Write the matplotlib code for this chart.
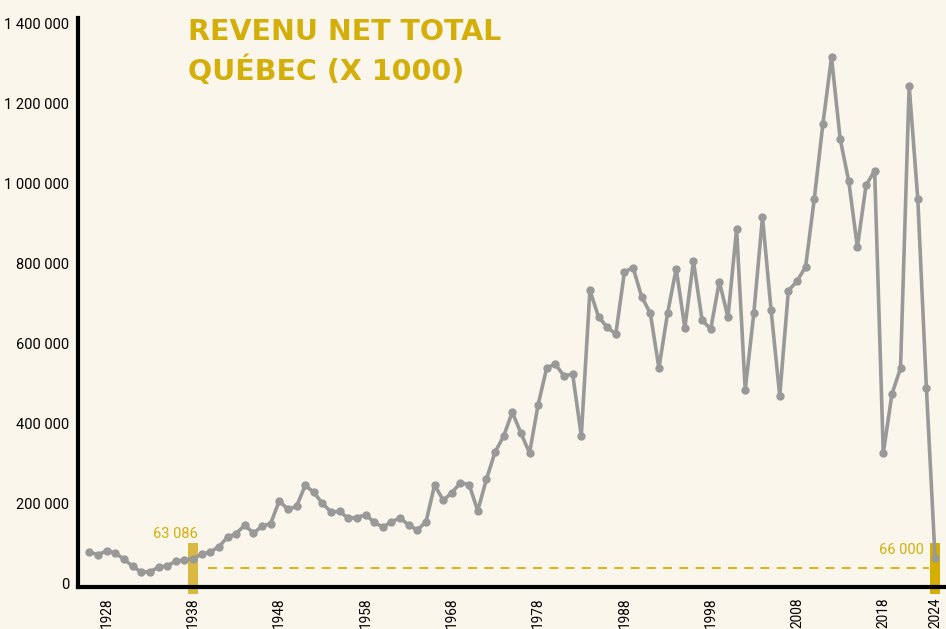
import matplotlib.pyplot as plt

# data (values in $ x1000)
years = list(range(1926, 2025))
revenu = [
    79000, 73000, 83000, 77000, 62000, 44000, 30000, 30000, 42000, 45000,   # 1926-1935
    57000, 60000, 63086, 74000, 80000, 93000, 117000, 126000, 147000, 127000,  # 1936-1945
    144000, 151000, 208000, 186000, 194000, 246000, 229000, 201000, 180000, 181000,  # 1946-1955
    164000, 166000, 173000, 154000, 142000, 155000, 165000, 147000, 135000, 155000,  # 1956-1965
    247000, 209000, 228000, 253000, 248000, 183000, 261000, 329000, 369000, 429000,  # 1966-1975
    377000, 327000, 448000, 540000, 549000, 519000, 524000, 370000, 733000, 667000,  # 1976-1985
    641000, 624000, 779000, 790000, 717000, 676000, 539000, 676000, 787000, 640000,  # 1986-1995
    806000, 659000, 636000, 755000, 666000, 886000, 484000, 677000, 916000, 683000,  # 1996-2005
    470000, 732000, 756000, 792000, 961000, 1148000, 1315000, 1112000, 1005000, 841000,  # 2006-2015
    995000, 1032000, 326000, 474000, 539000, 1244000, 961000, 489000, 66000,  # 2016-2024
]
ytick_vals = [0, 200000, 400000, 600000, 800000, 1000000, 1200000, 1400000]
ytick_labels = ["0", "200 000", "400 000", "600 000", "800 000",
                "1 000 000", "1 200 000", "1 400 000"]
xtick_years = [1928, 1938, 1948, 1958, 1968, 1978, 1988, 1998, 2008, 2018, 2024]
highlight_years = [1938, 2024]
highlight_labels = ["63 086", "66 000"]
ref_level = 39000

bg = "#FAF6EB"
gold = "#D4AF0A"
tick_font = ["Roboto", "DejaVu Sans"]

fig = plt.figure(figsize=(9.46, 6.29), dpi=100, facecolor=bg)
ax = fig.add_axes([78 / 946, 1 - 587 / 629, 1 - 78 / 946, (587 - 18) / 629])
ax.set_facecolor(bg)

# highlight bars
ax.bar(highlight_years[0], 127000, bottom=-25000, width=1.15, color="#D9B944",
       zorder=2, clip_on=False)
ax.bar(highlight_years[1], 127000, bottom=-25000, width=1.15, color="#D4AE00",
       zorder=2, clip_on=False)

# dashed reference line
ax.plot([1939.7, 2023.3], [ref_level, ref_level], color=gold, lw=1.3,
        dashes=(5, 4), zorder=2)

ax.plot(years, revenu, color="#999999", lw=2.6, marker="o", ms=5,
        zorder=3, solid_capstyle="round")

ax.text(highlight_years[0] + 0.55, 114000, highlight_labels[0], color=gold,
        ha="right", va="baseline", fontsize=10.5, family=tick_font)
ax.text(highlight_years[1] - 1.3, 74000, highlight_labels[1], color=gold,
        ha="right", va="baseline", fontsize=10.5, family=tick_font)

ax.set_xlim(1924.67, 2025.27)
ax.set_ylim(-7500, 1413000)

for s in ["top", "right"]:
    ax.spines[s].set_visible(False)
for s in ["left", "bottom"]:
    ax.spines[s].set_linewidth(3)
    ax.spines[s].set_color("black")

ax.set_yticks(ytick_vals)
ax.set_yticklabels(ytick_labels, family=tick_font, fontsize=10.5)
ax.set_xticks(xtick_years)
ax.set_xticklabels([str(y) for y in xtick_years], rotation=90,
                   family=tick_font, fontsize=9.8)
ax.tick_params(axis="both", length=0)
ax.tick_params(axis="y", pad=6.5)
ax.tick_params(axis="x", pad=7.5)

fig.text(188 / 946, 1 - 40 / 629, "REVENU NET TOTAL", color=gold,
         fontsize=20.5, fontweight="bold", family="DejaVu Sans",
         ha="left", va="baseline")
fig.text(188 / 946, 1 - 80 / 629, "QUÉBEC (X 1000)", color=gold,
         fontsize=20.5, fontweight="bold", family="DejaVu Sans",
         ha="left", va="baseline")

fig.savefig("out.png", dpi=100, facecolor=bg)
